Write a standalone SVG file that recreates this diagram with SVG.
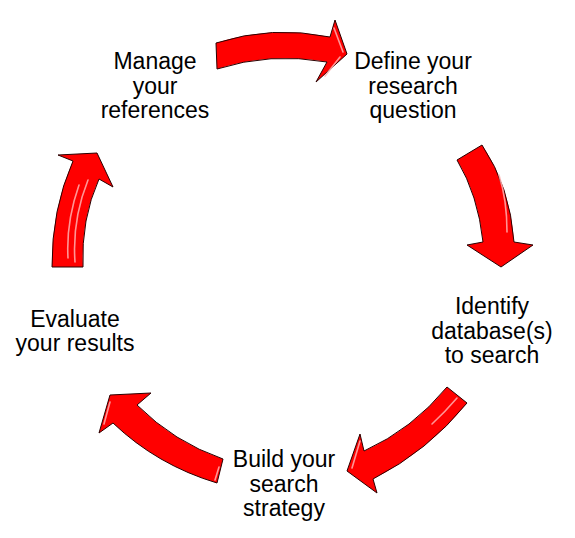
<svg xmlns="http://www.w3.org/2000/svg" width="575" height="538" viewBox="0 0 575 538">
<defs>
<style>
.lbl{font-family:"Liberation Sans",Arial,sans-serif;font-size:23px;fill:#000;text-anchor:middle}
.arr{fill:#ff0000;stroke:#2a0000;stroke-width:1;stroke-linejoin:miter}
.hl{fill:none;stroke:#ffb0b0;stroke-width:1.6;stroke-linecap:round;opacity:0.85;filter:url(#soft)}
</style>
<filter id="soft" x="-20%" y="-20%" width="140%" height="140%"><feGaussianBlur stdDeviation="0.6"/></filter>
</defs>
<rect width="575" height="538" fill="#fff"/>
<g id="connectors">
<g id="arrow-1">
<path class="arr" d="M216,43 Q272,25 330,37 L335,20 L347,54 L316,82 L327,62 Q270,52 217,69 Z"/>
<path class="hl" d="M334,28 L343,52"/>
<path class="hl" d="M325,76 L340,57"/>
</g>
<g id="arrow-2">
<path class="arr" d="M457,160 Q478,195 483,242 L467,245 L501,267 L533,245 L514,242 Q510,186.5 482,145 Z"/>
<path class="hl" d="M499,175 Q507,200 507,232"/>
</g>
<g id="arrow-3">
<path class="arr" d="M447,387 Q412.5,429 364,451 L360,434 L347,471 L377,493 L373,479 Q428,451 467,403 Z"/>
<path class="hl" d="M457,398 Q445,412 432,424"/>
<path class="hl" d="M360,441 L352,468"/>
</g>
<g id="arrow-4">
<path class="arr" d="M223,459 Q174,442 137,405 L151,393 L110,395 L99,433 L113,423 Q157,465 217,483 Z"/>
<path class="hl" d="M219,467 L215,480"/>
<path class="hl" d="M110,402 L104,424"/>
</g>
<g id="arrow-5">
<path class="arr" d="M52,267 Q51.5,210 73,161 L58,155 L97,153 L113,187 L99,179 Q81,219 83,267 Z"/>
<path class="hl" d="M75,262 Q72,220 88,180"/>
<path class="hl" d="M68,258 Q66,222 79,185"/>
</g>
</g>
<g id="node-manage">
<text class="lbl" x="155" y="69">Manage</text>
<text class="lbl" x="155" y="93.5">your</text>
<text class="lbl" x="155" y="118">references</text>
</g>
<g id="node-define">
<text class="lbl" x="413" y="69">Define your</text>
<text class="lbl" x="413" y="93.5">research</text>
<text class="lbl" x="413" y="118">question</text>
</g>
<g id="node-identify">
<text class="lbl" x="492" y="314">Identify</text>
<text class="lbl" x="492" y="338.5">database(s)</text>
<text class="lbl" x="492" y="363">to search</text>
</g>
<g id="node-build">
<text class="lbl" x="284" y="467">Build your</text>
<text class="lbl" x="284" y="491.5">search</text>
<text class="lbl" x="284" y="516">strategy</text>
</g>
<g id="node-evaluate">
<text class="lbl" x="75" y="326.5">Evaluate</text>
<text class="lbl" x="75" y="351">your results</text>
</g>
</svg>
